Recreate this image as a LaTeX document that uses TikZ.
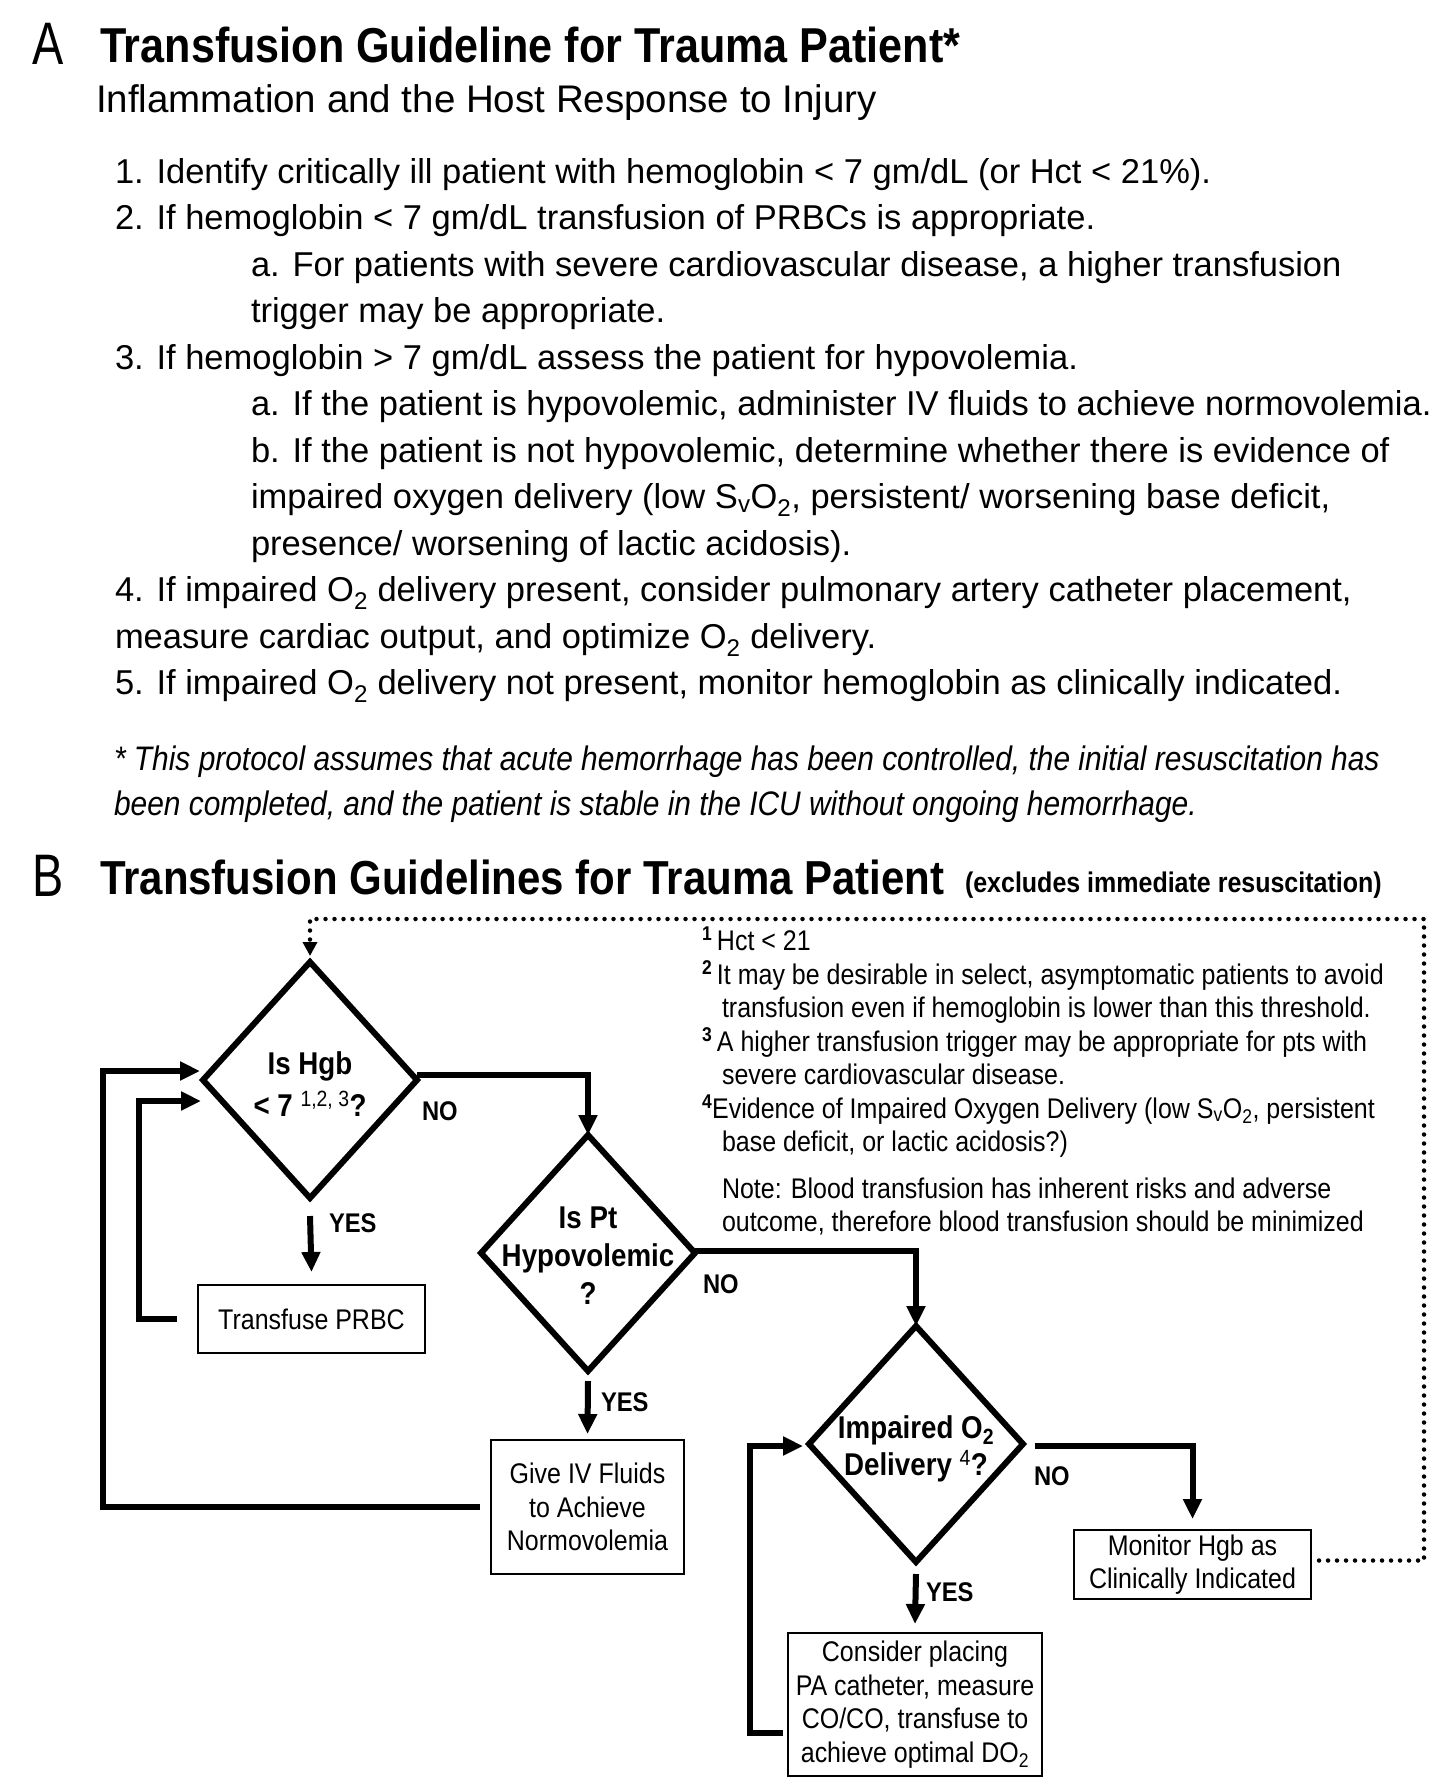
\documentclass[tikz,border=0pt]{standalone}
\usepackage{fontspec}
\setmainfont{Liberation Sans}
\newfontfamily\nf{Liberation Sans}[FakeStretch=0.88]
\newfontfamily\nfl{Liberation Sans}[FakeStretch=0.78]
\usetikzlibrary{arrows.meta,shapes.geometric,calc}
\newcommand{\myfs}[2]{\fontsize{#1}{#2}\selectfont}
\tikzset{
  txt/.style={anchor=base west, inner sep=0pt, outer sep=0pt},
  bigletter/.style={txt, font=\nfl\myfs{60}{62}},
  titleA/.style={txt, font=\nf\bfseries\myfs{49}{52}},
  body/.style={txt, font=\myfs{34.5}{46}},
  foot/.style={txt, font=\nf\itshape\myfs{34}{40}},
  note/.style={txt, font=\nf\myfs{28.4}{33}},
  dia/.style={draw, diamond, line width=6pt, minimum width=214pt, minimum height=236pt, inner sep=0pt, outer sep=0pt},
  dtext/.style={anchor=base, inner sep=0pt, outer sep=0pt, font=\nf\bfseries\myfs{31.5}{33}},
  boxnode/.style={draw, rectangle, line width=2.2pt, inner sep=0pt, outer sep=0pt, align=center, font=\nf\myfs{28.4}{33.5}},
  lab/.style={txt, font=\nf\bfseries\myfs{27}{28}},
  arr/.style={line width=6pt, -{Triangle[length=20pt,width=18pt]}},
  dotln/.style={line width=4.5pt, line cap=round, dash pattern=on 0pt off 9pt, -{Triangle[length=14pt,width=14pt]}}
}
\begin{document}
\begin{tikzpicture}[x=1pt,y=1pt]
\fill[white] (0,0) rectangle (1455,-1791);
\useasboundingbox (0,0) rectangle (1455,-1791);

% ---------------- Part A ----------------
\node[bigletter] (lA) at (32,-64) {A};
\node[titleA] (tA) at (100,-62) {Transfusion Guideline for Trauma Patient*};
\node[txt, font=\myfs{38.5}{42}] (sA) at (96,-112) {Inflammation and the Host Response to Injury};

\node[body] (a1) at (115,-183) {1. Identify critically ill patient with hemoglobin < 7 gm/dL (or Hct < 21\%).};
\node[body] (a2) at (115,-229.5) {2. If hemoglobin < 7 gm/dL transfusion of PRBCs is appropriate.};
\node[body] (a3) at (251,-276) {a. For patients with severe cardiovascular disease, a higher transfusion};
\node[body] (a4) at (251,-322.5) {trigger may be appropriate.};
\node[body] (a5) at (115,-369) {3. If hemoglobin > 7 gm/dL assess the patient for hypovolemia.};
\node[body] (a6) at (251,-415.5) {a. If the patient is hypovolemic, administer IV fluids to achieve normovolemia.};
\node[body] (a7) at (251,-462) {b. If the patient is not hypovolemic, determine whether there is evidence of};
\node[body] (a8) at (251,-508.5) {impaired oxygen delivery (low S\textsubscript{v}O\textsubscript{2}, persistent/ worsening base deficit,};
\node[body] (a9) at (251,-555) {presence/ worsening of lactic acidosis).};
\node[body] (a10) at (115,-601.5) {4. If impaired O\textsubscript{2} delivery present, consider pulmonary artery catheter placement,};
\node[body] (a11) at (115,-648) {measure cardiac output, and optimize O\textsubscript{2} delivery.};
\node[body] (a12) at (115,-694.5) {5. If impaired O\textsubscript{2} delivery not present, monitor hemoglobin as clinically indicated.};

\node[foot] (f1) at (114,-770) {* This protocol assumes that acute hemorrhage has been controlled, the initial resuscitation has};
\node[foot] (f2) at (114,-815) {been completed, and the patient is stable in the ICU without ongoing hemorrhage.};

% ---------------- Part B ----------------
\node[bigletter] (lB) at (32,-896) {B};
\node[txt, font=\nf\bfseries\myfs{47.7}{50}] (tB) at (100,-894) {Transfusion Guidelines for Trauma Patient};
\node[txt, font=\nf\bfseries\myfs{28.4}{30}] (tB2) at (965,-892) {(excludes immediate resuscitation)};

% footnotes
\node[note] (n1) at (702,-950) {\textsuperscript{\bfseries 1}\,Hct < 21};
\node[note] (n2) at (702,-984) {\textsuperscript{\bfseries 2}\,It may be desirable in select, asymptomatic patients to avoid};
\node[note] (n3) at (722,-1017) {transfusion even if hemoglobin is lower than this threshold.};
\node[note] (n4) at (702,-1051) {\textsuperscript{\bfseries 3}\,A higher transfusion trigger may be appropriate for pts with};
\node[note] (n5) at (722,-1084) {severe cardiovascular disease.};
\node[note] (n6) at (702,-1118) {\textsuperscript{\bfseries 4}Evidence of Impaired Oxygen Delivery (low S\textsubscript{v}O\textsubscript{2}, persistent};
\node[note] (n7) at (722,-1151) {base deficit, or lactic acidosis?)};
\node[note] (n8) at (722,-1198) {Note: Blood transfusion has inherent risks and adverse};
\node[note] (n9) at (722,-1231) {outcome, therefore blood transfusion should be minimized};

% decision diamonds
\node[dia] (d1) at (310,-1080) {};
\node[dia] (d2) at (588,-1253) {};
\node[dia] (d3) at (916,-1444) {};

\node[dtext] (d1t1) at (310,-1074) {Is Hgb};
\node[dtext] (d1t2) at (310,-1116) {< 7 \textsuperscript{\mdseries 1,2, 3}?};
\node[dtext] (d2t1) at (588,-1228) {Is Pt};
\node[dtext] (d2t2) at (588,-1266) {Hypovolemic};
\node[dtext] (d2t3) at (588,-1304) {?};
\node[dtext] (d3t1) at (916,-1438) {Impaired O\textsubscript{2}};
\node[dtext] (d3t2) at (916,-1475) {Delivery \textsuperscript{\mdseries 4}?};

% boxes
\node[boxnode, minimum width=227pt, minimum height=68pt] (prbc) at (311.5,-1319) {Transfuse PRBC};
\node[boxnode, minimum width=193pt, minimum height=134pt] (ivf) at (587.5,-1507) {Give IV Fluids\\to Achieve\\Normovolemia};
\node[boxnode, minimum width=237pt, minimum height=69pt] (mon) at (1192.5,-1564.5) {Monitor Hgb as\\Clinically Indicated};
\node[boxnode, minimum width=254pt, minimum height=143pt] (cons) at (915,-1704.5) {Consider placing\\PA catheter, measure\\CO/CO, transfuse to\\achieve optimal DO\textsubscript{2}};

% labels
\node[lab] (y1) at (329,-1232) {YES};
\node[lab] (no1) at (422,-1120) {NO};
\node[lab] (y2) at (601,-1411) {YES};
\node[lab] (no2) at (703,-1293) {NO};
\node[lab] (y3) at (926,-1601) {YES};
\node[lab] (no3) at (1034,-1485) {NO};

% connector corner coordinates
\coordinate (lo) at (103,-1071);
\coordinate (li) at (139,-1101);
\coordinate (lc) at (750,-1446);
\coordinate (dr) at (1424,-919);

% connectors
\draw[arr] ([yshift=-18pt]d1.south) -- ([yshift=13pt]prbc.north);
\draw[arr] ([yshift=5pt]d1.east) -| (d2.north);
\draw[arr] ([yshift=-10pt]d2.south) -- ([yshift=6pt]ivf.north);
\draw[arr] ([yshift=2pt]d2.east) -| (d3.north);
\draw[arr] ([yshift=-12pt]d3.south) -- ([yshift=9pt]cons.north);
\draw[arr] ([xshift=12pt,yshift=-2pt]d3.east) -| ([yshift=11pt]mon.north);

\draw[arr] ([xshift=-11pt]ivf.west) -| (lo) -- ($(lo -| d1.west)+(-3,0)$);
\draw[arr] ([xshift=-21pt]prbc.west) -| (li) -- ($(li -| d1.west)+(-2,0)$);
\draw[arr] ([xshift=-5pt,yshift=-28pt]cons.west) -| (lc) -- ($(lc -| d3.west)+(-6,0)$);

\draw[dotln] ([xshift=8pt,yshift=4pt]mon.east) -| (dr) -| ([yshift=6pt]d1.north);
\end{tikzpicture}
\end{document}
